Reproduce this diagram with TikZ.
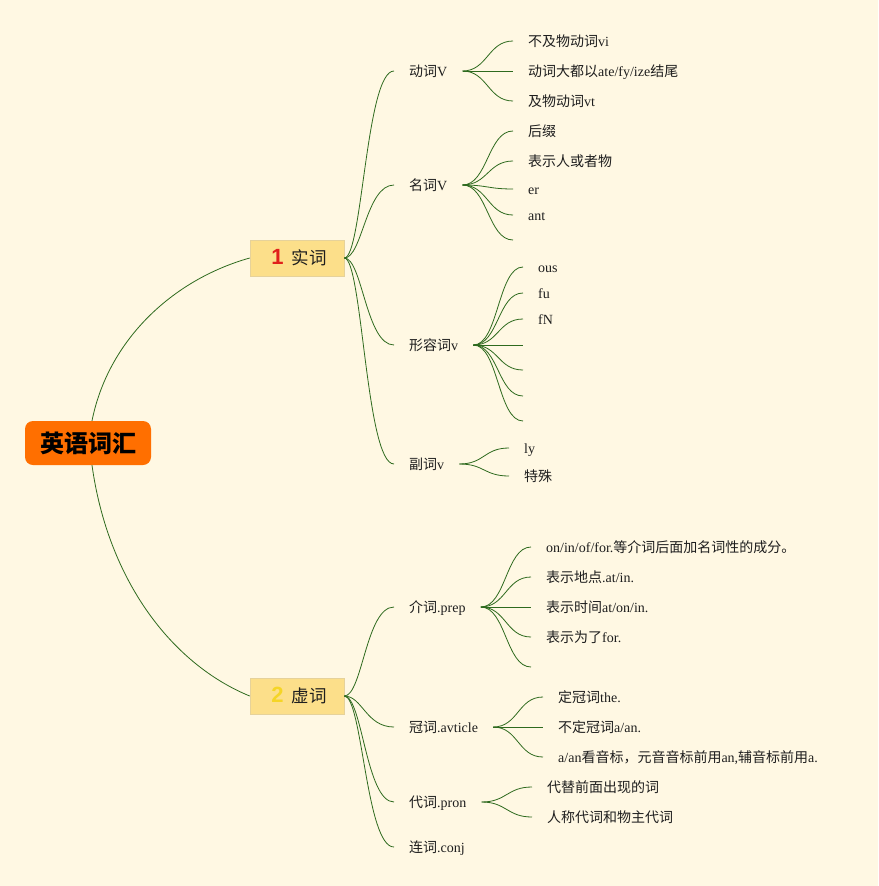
\documentclass[tikz,border=0pt]{standalone}
\usepackage{fontspec}
\setmainfont{Liberation Serif}
\newfontfamily\cjk{Noto Sans CJK SC}
\newfontfamily\numfont{Liberation Sans}
\newcommand{\zh}[1]{{\cjk #1}}

\definecolor{paper}{HTML}{FFF8E3}
\definecolor{rootfill}{HTML}{FF6F00}
\definecolor{boxfill}{HTML}{FCDF8A}
\definecolor{boxline}{HTML}{E6D29A}
\definecolor{stem}{HTML}{2E6A1E}
\definecolor{ink}{HTML}{1E1E1E}
\definecolor{markone}{HTML}{E0201B}
\definecolor{marktwo}{HTML}{F5D526}

\begin{document}
\begin{tikzpicture}[x=1pt,y=-1pt]
  \fill[paper] (0,0) rectangle (878,886);
  \useasboundingbox (0,0) rectangle (878,886);

  \tikzstyle{link}=[draw=stem, line width=0.8pt]
  \tikzstyle{limb}=[to path={.. controls ([xshift=18pt]\tikztostart) and ([xshift=-28pt]\tikztotarget) .. (\tikztotarget)}]
  \tikzstyle{twig}=[to path={.. controls ([xshift=25pt]\tikztostart) and ([xshift=-25pt]\tikztotarget) .. (\tikztotarget)}]
  \tikzstyle{root}=[fill=rootfill, rounded corners=8pt, minimum width=126pt, minimum height=44pt,
                    inner sep=0pt, text=black, font=\cjk\bfseries\fontsize{24}{28}\selectfont]
  \tikzstyle{cat}=[fill=boxfill, draw=boxline, line width=0.6pt, minimum width=94pt, minimum height=36pt,
                   inner sep=0pt, text=ink, font=\fontsize{17.5}{20}\selectfont]
  \tikzstyle{topic}=[anchor=west, inner xsep=15pt, inner ysep=0pt, text height=12.5pt, text depth=2pt,
                     text=ink, font=\fontsize{14}{16}\selectfont]

  \node[root] (root) at (88,443) {英语词汇};
  \node[cat] (real) at (297,258) {\hspace{4pt}{\numfont\bfseries\fontsize{22}{24}\selectfont\color{markone}1}\hspace{8pt}\zh{实词}};
  \node[cat] (func) at (297,696) {\hspace{4pt}{\numfont\bfseries\fontsize{22}{24}\selectfont\color{marktwo}2}\hspace{8pt}\zh{虚词}};

  \draw[link] ([xshift=4pt]root.north) .. controls ([shift={(20,-80)}]root.north) and ([shift={(-78,22)}]real.west) .. (real.west);
  \draw[link] ([xshift=4pt]root.south) .. controls ([shift={(20,115)}]root.south) and ([shift={(-78,-32)}]func.west) .. (func.west);

  % second level
  \node[topic] (verb) at (394,71) {\zh{动词}V};
  \node[topic] (noun) at (394,185) {\zh{名词}V};
  \node[topic] (adj) at (394,345) {\zh{形容词}v};
  \node[topic] (adv) at (394,464) {\zh{副词}v};
  \node[topic] (prep) at (394,607) {\zh{介词}.prep};
  \node[topic] (art) at (394,727) {\zh{冠词}.avticle};
  \node[topic] (pron) at (394,802) {\zh{代词}.pron};
  \node[topic] (conj) at (394,847) {\zh{连词}.conj};

  \draw[link] (real.east) to[limb] (verb.west);
  \draw[link] (real.east) to[limb] (noun.west);
  \draw[link] (real.east) to[limb] (adj.west);
  \draw[link] (real.east) to[limb] (adv.west);
  \draw[link] (func.east) to[limb] (prep.west);
  \draw[link] (func.east) to[limb] (art.west);
  \draw[link] (func.east) to[limb] (pron.west);
  \draw[link] (func.east) to[limb] (conj.west);

  % leaves
  \node[topic] (verb1) at (513,41) {\zh{不及物动词}vi};
  \node[topic] (verb2) at (513,71) {\zh{动词大都以}ate/fy/ize\zh{结尾}};
  \node[topic] (verb3) at (513,101) {\zh{及物动词}vt};

  \node[topic] (noun1) at (513,131) {\zh{后缀}};
  \node[topic] (noun2) at (513,161) {\zh{表示人或者物}};
  \node[topic] (noun3) at (513,189) {er};
  \node[topic] (noun4) at (513,215) {ant};
  \node[topic] (noun5) at (513,240) {};

  \node[topic] (adj1) at (523,267) {ous};
  \node[topic] (adj2) at (523,293) {fu};
  \node[topic] (adj3) at (523,319) {fN};
  \node[topic] (adj4) at (523,345) {};
  \node[topic] (adj5) at (523,370) {};
  \node[topic] (adj6) at (523,396) {};
  \node[topic] (adj7) at (523,421) {};

  \node[topic] (adv1) at (509,448) {ly};
  \node[topic] (adv2) at (509,476) {\zh{特殊}};

  \node[topic] (prep1) at (531,547) {on/in/of/for.\zh{等介词后面加名词性的成分。}};
  \node[topic] (prep2) at (531,577) {\zh{表示地点}.at/in.};
  \node[topic] (prep3) at (531,607) {\zh{表示时间}at/on/in.};
  \node[topic] (prep4) at (531,637) {\zh{表示为了}for.};
  \node[topic] (prep5) at (531,667) {};

  \node[topic] (art1) at (543,697) {\zh{定冠词}the.};
  \node[topic] (art2) at (543,727) {\zh{不定冠词}a/an.};
  \node[topic] (art3) at (543,757) {a/an\zh{看音标，元音音标前用}an,\zh{辅音标前用}a.};

  \node[topic] (pron1) at (532,787) {\zh{代替前面出现的词}};
  \node[topic] (pron2) at (532,817) {\zh{人称代词和物主代词}};

  \draw[link] (verb.east) to[twig] (verb1.west);
  \draw[link] (verb.east) to[twig] (verb2.west);
  \draw[link] (verb.east) to[twig] (verb3.west);
  \draw[link] (noun.east) to[twig] (noun1.west);
  \draw[link] (noun.east) to[twig] (noun2.west);
  \draw[link] (noun.east) to[twig] (noun3.west);
  \draw[link] (noun.east) to[twig] (noun4.west);
  \draw[link] (noun.east) to[twig] (noun5.west);
  \draw[link] (adj.east) to[twig] (adj1.west);
  \draw[link] (adj.east) to[twig] (adj2.west);
  \draw[link] (adj.east) to[twig] (adj3.west);
  \draw[link] (adj.east) to[twig] (adj4.west);
  \draw[link] (adj.east) to[twig] (adj5.west);
  \draw[link] (adj.east) to[twig] (adj6.west);
  \draw[link] (adj.east) to[twig] (adj7.west);
  \draw[link] (adv.east) to[twig] (adv1.west);
  \draw[link] (adv.east) to[twig] (adv2.west);
  \draw[link] (prep.east) to[twig] (prep1.west);
  \draw[link] (prep.east) to[twig] (prep2.west);
  \draw[link] (prep.east) to[twig] (prep3.west);
  \draw[link] (prep.east) to[twig] (prep4.west);
  \draw[link] (prep.east) to[twig] (prep5.west);
  \draw[link] (art.east) to[twig] (art1.west);
  \draw[link] (art.east) to[twig] (art2.west);
  \draw[link] (art.east) to[twig] (art3.west);
  \draw[link] (pron.east) to[twig] (pron1.west);
  \draw[link] (pron.east) to[twig] (pron2.west);

\end{tikzpicture}
\end{document}
